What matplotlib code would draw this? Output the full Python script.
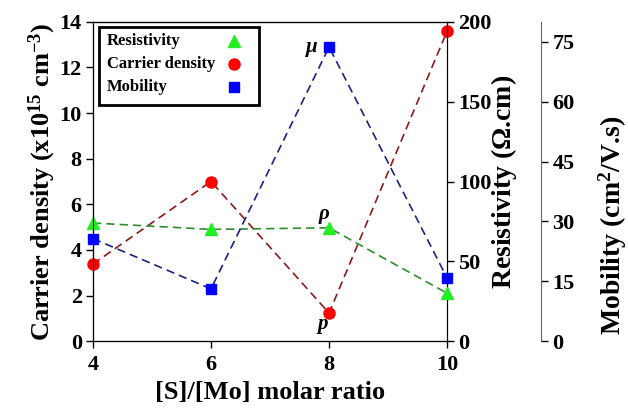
import numpy as np
import matplotlib.pyplot as plt
from matplotlib.patches import Rectangle

plt.rcParams['font.family'] = ['Liberation Serif', 'DejaVu Serif']
plt.rcParams['font.weight'] = 'bold'
plt.rcParams['mathtext.fontset'] = 'custom'
plt.rcParams['mathtext.rm'] = 'Liberation Serif:bold'
plt.rcParams['mathtext.it'] = 'Liberation Serif:bold:italic'

ratio = [4, 6, 8, 10]
carrier = [3.38, 7.0, 1.23, 13.6]       # x10^15 cm^-3
resistivity = [74, 70, 71, 30]          # Ohm.cm
mobility = [25.7, 13.1, 73.7, 15.8]     # cm^2/V.s

fig = plt.figure(figsize=(6.28, 4.13), dpi=100)
ax = fig.add_axes([0.148, 0.174, 0.564, 0.773])
ax_r = ax.twinx()
ax_m = ax.twinx()
ax_m.spines['right'].set_position(('axes', 1.266))
ax_m.spines['right'].set_color('#666666')

l_c, = ax.plot(ratio, carrier, '--', color='#8b1a1a', lw=1.2, dashes=(5, 3),
               marker='o', ms=8, mfc='red', mec='red', zorder=3)
l_r, = ax_r.plot(ratio, resistivity, '--', color='#2e8b2e', lw=1.2, dashes=(5, 3),
                 marker='^', ms=8, mfc='#22ee22', mec='#22ee22', zorder=3)
l_m, = ax_m.plot(ratio, mobility, '--', color='#1a237e', lw=1.2, dashes=(5, 3),
                 marker='s', ms=7, mfc='blue', mec='blue', zorder=3)

for a in (ax, ax_r, ax_m):
    for m in a.get_lines():
        m.set_clip_on(False)

ax.set_xlim(4, 10)
ax.set_ylim(0, 14)
ax.set_xticks(ratio)
ax.set_yticks(range(0, 15, 2))
ax_r.set_ylim(0, 200)
ax_r.set_yticks(range(0, 201, 50))
ax_m.set_ylim(0, 80)
ax_m.set_yticks(range(0, 76, 15))

for a in (ax, ax_r, ax_m):
    a.tick_params(labelsize=16, width=1, length=5, pad=3)
ax.tick_params(axis='x', pad=5)

ax.set_xlabel('[S]/[Mo] molar ratio', fontsize=19, fontweight='bold', labelpad=4)
ax.set_ylabel('Carrier density (x10$^{15}$ cm$^{-3}$)', fontsize=19, fontweight='bold', labelpad=1)
ax_r.set_ylabel('Resistivity ($\\Omega$.cm)', fontsize=20, fontweight='bold', labelpad=-2)
# mobility label sits a bit lower than the axis centre in the original
fig.text(0.975, 0.455, 'Mobility (cm$^{2}$/V.s)', fontsize=20, fontweight='bold',
         rotation=90, ha='center', va='center')

ax.text(7.71, 12.9, 'μ', fontsize=15, style='italic', fontweight='bold',
        ha='center', va='center')
ax.text(7.92, resistivity[2] * 14 / 200 + 0.62, 'ρ', fontsize=15, style='italic', fontweight='bold',
        ha='center', va='center')
ax.text(7.9, carrier[2] - 0.5, 'p', fontsize=15, style='italic', fontweight='bold',
        ha='center', va='center')

# legend drawn by hand: text left-aligned, markers in a column on the right
ax.add_patch(Rectangle((0.017, 0.740), 0.452, 0.244, transform=ax.transAxes,
                       fill=True, fc='white', ec='black', lw=2, zorder=5, clip_on=False))
leg_rows = [('Resistivity', '^', '#22ee22', 8), ('Carrier density', 'o', 'red', 8),
            ('Mobility', 's', 'blue', 6.5)]
for i, (lab, mk, col, ms) in enumerate(leg_rows):
    yy = 0.940 - i * 0.072
    ax.text(0.04, yy, lab, transform=ax.transAxes, fontsize=12, fontweight='bold',
            ha='left', va='center', zorder=6)
    ax.plot([0.398], [yy], marker=mk, color=col, ms=ms, ls='none',
            transform=ax.transAxes, zorder=6, clip_on=False)

fig.savefig('out.png', dpi=100)
